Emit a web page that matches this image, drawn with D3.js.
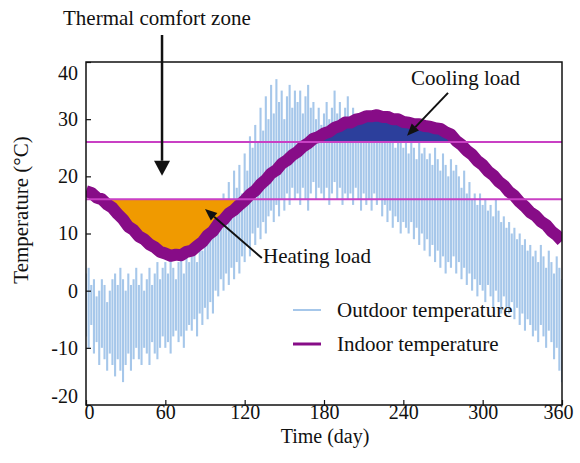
<!DOCTYPE html>
<html><head><meta charset="utf-8">
<script src="https://cdn.jsdelivr.net/npm/d3@7"></script>
<style>
body{margin:0;background:#fff}
text{font-family:"Liberation Serif","Times New Roman",serif;fill:#111}
</style>
</head><body><svg id="c" width="580" height="463"></svg>
<script>
// ---- data ----
const xTicks = [0, 60, 120, 180, 240, 300, 360];
const yTicks = [-20, -10, 0, 10, 20, 30, 40];
const comfortBounds = [16, 26];           // thermal comfort zone (°C)
const heatingSeason = [0, 180];           // days where heating load is shown
const outdoorStep = 2;                    // days between outdoor samples
const outdoorMax = [
 3, 4, 1, 2, -1, 0, 2, 1, -2, 0,      2, 3, 1, 4, 2, 0, 3, 1, 2, 4,
 1, 3, 0, 2, 4, 1, 3, 5, 2, 4,        5, 3, 6, 4, 2, 5, 6, 3, 7, 5,
 6, 8, 5, 9, 7, 12, 10, 14, 11, 13,   16, 12, 17, 14, 19, 15, 21, 18, 22, 17,
 24, 21, 27, 25, 29, 26, 32, 28, 34, 30,  36, 31, 37, 33, 35, 30, 34, 36, 32, 35,
 33, 35, 31, 34, 36, 32, 33, 30, 32, 29,  31, 33, 30, 32, 35, 31, 33, 29, 32, 34,
 30, 32, 29, 31, 28, 30, 29, 31, 28, 30,  29, 27, 30, 28, 26, 28, 27, 25, 27, 26,
 25, 27, 24, 26, 25, 23, 26, 24, 25, 23,  24, 22, 25, 23, 21, 24, 22, 20, 23, 21,
 22, 20, 18, 21, 17, 19, 16, 17, 15, 17,  15, 16, 14, 15, 13, 16, 14, 12, 13, 11,
 12, 10, 11, 9, 10, 8, 9, 7, 8, 6,        7, 5, 8, 6, 4, 7, 5, 3, 6, 4,
 2
];
const outdoorMin = [
 -8, -10, -6, -11, -9, -13, -10, -12, -14, -11,  -13, -15, -12, -14, -16, -13, -11, -14, -12, -10,
 -12, -13, -10, -11, -13, -9, -11, -12, -10, -8,  -10, -9, -11, -8, -7, -9, -8, -10, -7, -6,
 -7, -5, -8, -4, -6, -3, -5, -2, -4, 0,          -1, 2, 0, 3, 1, 4, 2, 5, 3, 6,
 5, 8, 6, 10, 8, 11, 9, 12, 10, 13,              14, 12, 15, 13, 16, 14, 17, 15, 18, 16,
 17, 15, 18, 16, 14, 17, 19, 16, 18, 17,         16, 18, 15, 17, 19, 16, 18, 15, 17, 16,
 17, 15, 18, 16, 14, 17, 15, 16, 14, 17,         15, 16, 13, 15, 12, 14, 11, 13, 12, 10,
 12, 11, 10, 12, 9, 11, 8, 10, 7, 9,             6, 8, 5, 7, 4, 6, 3, 5, 4, 6,
 3, 5, 2, 4, 1, 3, 0, 2, -1, 1,                  0, -2, 1, -1, -3, 0, -2, -4, -1, -3,
 -4, -2, -5, -3, -6, -4, -7, -5, -6, -8,         -7, -9, -6, -8, -10, -7, -9, -12, -10, -14,
 -16
];
const indoorStep = 4;                     // days between indoor samples
const indoorTemp = [
 17.4, 17.1, 16.3, 16.0, 15.1, 14.5, 13.4, 12.5, 11.2, 10.6,
 9.5, 9.0, 8.1, 7.6, 6.8, 6.5, 6.1, 6.3, 6.2, 6.8,
 7.0, 7.8, 8.5, 9.7, 10.4, 11.7, 12.4, 13.5, 14.1, 15.0,
 15.8, 16.8, 17.5, 18.6, 19.4, 20.5, 21.1, 22.2, 22.8, 23.7,
 24.3, 25.2, 25.8, 26.6, 26.9, 27.5, 27.8, 28.5, 28.8, 29.4,
 29.4, 29.9, 30.1, 30.5, 30.5, 30.7, 30.4, 30.4, 30.0, 30.0,
 29.5, 29.4, 29.1, 29.1, 28.8, 28.7, 28.4, 28.3, 27.7, 27.3,
 26.2, 25.5, 24.5, 23.8, 22.7, 22.0, 20.9, 20.2, 19.1, 18.4,
 17.3, 16.6, 15.5, 14.7, 13.7, 13.1, 12.1, 11.5, 10.4, 9.7,
 8.7
];
const legendLabels = ["Outdoor temperature", "Indoor temperature"];

// ---- layout ----
const svg = d3.select("#c");
const L = 86, R = 562, T = 62, B = 405;
const x = d3.scaleLinear().domain([0, 360]).range([L, R]);
const y = d3.scaleLinear().domain([-20, 40]).range([B, T]);
const font = 21, tickFont = 20;
const blue = "#a6c7ea", purple = "#870c87";

const outdoor = outdoorMax.map((v, i) => ({d: i * outdoorStep, hi: v, lo: outdoorMin[i]}));
const indoor = indoorTemp.map((v, i) => ({d: i * indoorStep, v}));

svg.append("defs").append("clipPath").attr("id", "clip")
  .append("rect").attr("x", L).attr("y", T).attr("width", R - L).attr("height", B - T);
const plot = svg.append("g").attr("clip-path", "url(#clip)");

// outdoor: daily range bars
plot.selectAll("line.od").data(outdoor).join("line").attr("class", "od")
  .attr("x1", d => x(d.d)).attr("x2", d => x(d.d))
  .attr("y1", d => y(d.lo)).attr("y2", d => y(d.hi))
  .attr("stroke", blue).attr("stroke-width", 2.1);

const curve = d3.curveLinear;
// heating load fill
plot.append("path").datum(indoor.filter(d => d.d >= heatingSeason[0] && d.d <= heatingSeason[1]))
  .attr("fill", "#f09a00")
  .attr("d", d3.area().curve(curve).x(d => x(d.d)).y0(y(comfortBounds[0])).y1(d => y(Math.min(d.v, comfortBounds[0]))));
// cooling load fill
plot.append("path").datum(indoor)
  .attr("fill", "#2c3f9c")
  .attr("d", d3.area().curve(curve).x(d => x(d.d)).y0(y(comfortBounds[1])).y1(d => y(Math.max(d.v, comfortBounds[1]))));

// indoor band
plot.append("path").datum(indoor)
  .attr("fill", "none").attr("stroke", purple).attr("stroke-width", 12)
  .attr("stroke-linejoin", "round")
  .attr("d", d3.line().curve(curve).x(d => x(d.d)).y(d => y(d.v)));

// comfort bounds
plot.selectAll("line.cb").data(comfortBounds).join("line").attr("class", "cb")
  .attr("x1", L).attr("x2", R).attr("y1", d => y(d)).attr("y2", d => y(d))
  .attr("stroke", "#c940c4").attr("stroke-width", 2);

// frame
svg.append("rect").attr("x", L).attr("y", T).attr("width", R - L).attr("height", B - T)
  .attr("fill", "none").attr("stroke", "#111").attr("stroke-width", 1.5);

// axes
const gx = svg.append("g").attr("transform", `translate(0,${B})`)
  .call(d3.axisBottom(x).tickValues(xTicks).tickFormat(d => String(d)).tickSizeInner(-5).tickSizeOuter(0).tickPadding(0));
const gy = svg.append("g").attr("transform", `translate(${L},0)`)
  .call(d3.axisLeft(y).tickValues(yTicks).tickFormat(d => String(d)).tickSizeInner(-5).tickSizeOuter(0).tickPadding(8));
[gx, gy].forEach(g => {
  g.select(".domain").remove();
  g.selectAll("line").attr("stroke", "#111").attr("stroke-width", 1.2);
  g.selectAll("text").style("font-size", tickFont + "px").style("font-family", '"Liberation Serif",serif').attr("fill", "#111");
});
gy.selectAll(".tick text").attr("dy", d => d === 40 ? "0.85em" : d === -20 ? "-0.15em" : "0.32em");
gx.selectAll(".tick text").attr("dx", d => d === 0 ? "0.15em" : d === 360 ? "-0.2em" : 0);

svg.append("text").attr("x", 325).attr("y", 443).attr("text-anchor", "middle")
  .style("font-size", "20px").text("Time (day)");
svg.append("text").attr("transform", "translate(28,210) rotate(-90)").attr("text-anchor", "middle")
  .style("font-size", font + "px").text("Temperature (°C)");

// legend
const lg = svg.append("g");
const legendColors = [blue, purple];
const legendWidths = [2, 3];
legendLabels.forEach((lab, i) => {
  const yy = 310 + i * 34;
  lg.append("line").attr("x1", 293).attr("x2", 321).attr("y1", yy).attr("y2", yy)
    .attr("stroke", legendColors[i]).attr("stroke-width", legendWidths[i]);
  lg.append("text").attr("x", 337).attr("y", yy + 7).style("font-size", font + "px").text(lab);
});

// annotations
function arrow(x1, y1, x2, y2, w, hl, hw) {
  const a = Math.atan2(y2 - y1, x2 - x1);
  const bx = x2 - hl * Math.cos(a), by = y2 - hl * Math.sin(a);
  svg.append("line").attr("x1", x1).attr("y1", y1).attr("x2", bx).attr("y2", by)
    .attr("stroke", "#111").attr("stroke-width", w);
  const px = -Math.sin(a) * hw / 2, py = Math.cos(a) * hw / 2;
  svg.append("path").attr("fill", "#111")
    .attr("d", `M${x2},${y2}L${bx + px},${by + py}L${bx - px},${by - py}Z`);
}
svg.append("text").attr("x", 63).attr("y", 25).style("font-size", font + "px").text("Thermal comfort zone");
arrow(x(57.5), 35, x(57.5), y(20.1), 2.5, 15, 16);
svg.append("text").attr("x", 411).attr("y", 85).style("font-size", font + "px").text("Cooling load");
arrow(x(273.8), y(34.6), x(242.8), y(27.1), 2, 12, 10);
svg.append("text").attr("x", 263).attr("y", 263).style("font-size", font + "px").text("Heating load");
arrow(x(133), y(5.7), x(90), y(14.3), 2, 12, 10);
</script></body></html>
